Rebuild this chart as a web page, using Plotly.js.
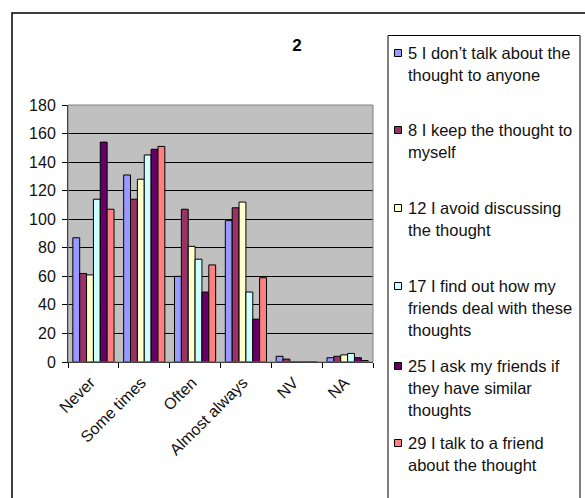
<!DOCTYPE html>
<html>
<head>
<meta charset="utf-8">
<script src="https://cdn.plot.ly/plotly-3.0.1.min.js"></script>
<style>
html,body{margin:0;padding:0;background:#fff;}
#chart{width:585px;height:498px;}
</style>
</head>
<body>
<div id="chart"></div>
<script>
// ---- data ----
var categories = ['Never', 'Some times', 'Often', 'Almost always', 'NV', 'NA'];
var seriesNames = [
  '5 I don\u2019t talk about the\nthought to anyone',
  '8 I keep the thought to\nmyself',
  '12 I avoid discussing\nthe thought',
  '17 I find out how my\nfriends deal with these\nthoughts',
  '25 I ask my friends if\nthey have similar\nthoughts',
  '29 I talk to a friend\nabout the thought'
];
var s5  = [87, 131, 60, 99, 4, 3];
var s8  = [62, 114, 107, 108, 2, 4];
var s12 = [61, 128, 81, 112, 0, 5];
var s17 = [114, 145, 72, 49, 0, 6];
var s25 = [154, 149, 49, 30, 0, 3];
var s29 = [107, 151, 68, 59, 0, 1];
var seriesValues = [s5, s8, s12, s17, s25, s29];
var yTickVals = [0, 20, 40, 60, 80, 100, 120, 140, 160, 180];
var chartTitle = '2';

// ---- styling ----
var colors = ['#9999FF', '#993366', '#FFFFCC', '#CCFFFF', '#660066', '#FF8080'];
var W = 585, H = 498;
var L = 68, R = 373, T = 105, B = 362;
function px(x) { return (x - L) / (R - L); }
function py(y) { return (B - y) / (B - T); }
var FONT = 'Arial, "Liberation Sans", sans-serif';

var traces = seriesValues.map(function (vals, i) {
  return {
    type: 'bar',
    x: categories,
    y: vals,
    name: seriesNames[i].replace(/\n/g, ' '),
    marker: { color: colors[i], line: { color: '#000', width: 1 } },
    hoverinfo: 'x+y+name'
  };
});

var shapes = [];
var annotations = [];
// outer chart frame
shapes.push({ type: 'rect', xref: 'paper', yref: 'paper', x0: px(12), x1: px(620), y0: py(540), y1: py(13),
  line: { color: '#000', width: 1.5 }, fillcolor: 'rgba(0,0,0,0)' });
// plot-area border (grey)
shapes.push({ type: 'rect', xref: 'paper', yref: 'paper', x0: 0, x1: 1, y0: 0, y1: 1,
  line: { color: '#808080', width: 1 }, fillcolor: 'rgba(0,0,0,0)' });
// legend box
shapes.push({ type: 'rect', xref: 'paper', yref: 'paper', x0: px(388), x1: px(580), y0: py(540), y1: py(35.5),
  line: { color: '#000', width: 1 }, fillcolor: '#fff' });

var entryTops = [53, 130, 208, 286, 366, 443];
var lineGap = 22;
seriesNames.forEach(function (nm, i) {
  var yc = entryTops[i];
  shapes.push({ type: 'rect', xref: 'paper', yref: 'paper', x0: px(394.5), x1: px(401.5), y0: py(yc + 3.5), y1: py(yc - 3.5),
    line: { color: '#000', width: 1 }, fillcolor: colors[i] });
  nm.split('\n').forEach(function (ln, j) {
    annotations.push({ xref: 'paper', yref: 'paper', x: px(406), y: py(yc + j * lineGap), xanchor: 'left', yanchor: 'middle',
      text: ln, showarrow: false, font: { family: FONT, size: 16.5, color: '#111' } });
  });
});

var layout = {
  width: W, height: H,
  margin: { l: L, r: W - R, t: T, b: H - B, pad: 0 },
  paper_bgcolor: '#fff',
  plot_bgcolor: '#C0C0C0',
  showlegend: false,
  barmode: 'group',
  bargap: 0.19,
  bargroupgap: 0,
  title: { text: '<b>' + chartTitle + '</b>', x: 297 / W, y: 1 - 45 / H, xanchor: 'center', yanchor: 'middle',
    font: { family: FONT, size: 17, color: '#000' } },
  font: { family: FONT, color: '#111' },
  xaxis: {
    type: 'category',
    range: [-0.5, categories.length - 0.5],
    tickangle: -45,
    tickson: 'boundaries',
    ticks: 'outside', ticklen: 5, tickcolor: '#000', tickwidth: 1,
    showline: true, linecolor: '#000', linewidth: 1,
    showgrid: false,
    ticklabelshift: -3,
    ticklabelstandoff: 4,
    tickfont: { family: FONT, size: 16, color: '#111' },
    fixedrange: true
  },
  yaxis: {
    range: [0, 180],
    tickvals: yTickVals,
    ticks: 'outside', ticklen: 5, tickcolor: '#000', tickwidth: 1,
    showline: true, linecolor: '#000', linewidth: 1,
    showgrid: true, gridcolor: '#000', gridwidth: 1,
    zeroline: false,
    ticklabelstandoff: 3,
    tickfont: { family: FONT, size: 16, color: '#111' },
    fixedrange: true
  },
  shapes: shapes,
  annotations: annotations
};

Plotly.newPlot('chart', traces, layout, { displayModeBar: false, staticPlot: true });
</script>
</body>
</html>
